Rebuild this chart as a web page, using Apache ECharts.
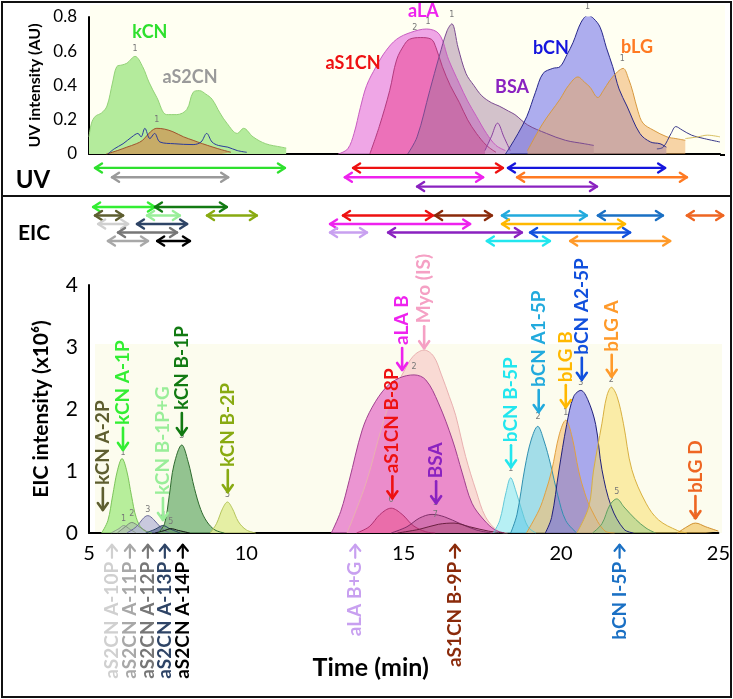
<!DOCTYPE html>
<html><head><meta charset="utf-8">
<script src="https://cdn.jsdelivr.net/npm/echarts@6/dist/echarts.min.js"></script>
<style>html,body{margin:0;padding:0;background:#fff;}#c{width:733px;height:699px;}</style>
</head><body><div id="c"></div>
<script>
// ---------------- UV chromatogram traces [time (min), intensity (AU)] ----------------
const uvKCN = [[5.0,0.1],[5.08,0.18],[5.2,0.22],[5.4,0.24],[5.57,0.28],[5.75,0.42],[5.88,0.51],[6.05,0.52],[6.2,0.53],[6.46,0.57],[6.7,0.51],[6.9,0.42],[7.15,0.33],[7.46,0.23],[7.78,0.23],[8.1,0.26],[8.3,0.36],[8.5,0.37],[8.7,0.35],[8.9,0.32],[9.15,0.24],[9.37,0.18],[9.7,0.12],[9.9,0.15],[10.2,0.10],[10.6,0.06],[11.1,0.04],[11.25,0.035]];
const uvAS2CN = [[5.55,0],[5.9,0.02],[6.2,0.04],[6.5,0.06],[6.7,0.08],[6.95,0.13],[7.15,0.15],[7.4,0.145],[7.66,0.13],[8.0,0.1],[8.3,0.08],[8.6,0.06],[8.93,0.04],[9.2,0.025],[9.5,0.01]];
const uvBlueTrace = [[5.6,0],[5.8,0.03],[6.08,0.06],[6.36,0.1],[6.55,0.12],[6.65,0.1],[6.77,0.15],[6.93,0.09],[7.08,0.12],[7.25,0.07],[7.7,0.06],[8.3,0.055],[8.55,0.07],[8.73,0.12],[8.9,0.07],[9.1,0.05],[9.4,0.04],[9.7,0.02],[10.0,0.01]];
const uvALA = [[12.9,0],[13.2,0.03],[13.4,0.12],[13.6,0.27],[13.8,0.4],[14.1,0.51],[14.4,0.6],[14.75,0.67],[15.2,0.71],[15.7,0.73],[16.1,0.7],[16.4,0.55],[16.74,0.41],[17.0,0.31],[17.28,0.22],[17.6,0.12],[17.9,0.05],[18.2,0.02]];
const uvAS1CN = [[13.9,0],[14.2,0.16],[14.53,0.37],[14.75,0.55],[15.0,0.64],[15.16,0.67],[15.5,0.68],[15.85,0.67],[16.0,0.62],[16.2,0.51],[16.45,0.4],[16.74,0.3],[17.0,0.2],[17.28,0.12],[17.6,0.05],[17.9,0.01]];
const uvBSA = [[15.1,0],[15.4,0.1],[15.8,0.37],[16.1,0.57],[16.35,0.72],[16.5,0.76],[16.7,0.62],[16.95,0.47],[17.2,0.4],[17.45,0.34],[17.75,0.3],[18.0,0.28],[18.3,0.25],[18.5,0.23],[18.9,0.17],[19.5,0.12],[20.1,0.08],[20.7,0.06],[21.0,0.05]];
const uvBSAminor = [[17.55,0.02],[17.75,0.1],[17.95,0.18],[18.15,0.1],[18.35,0.02]];
const uvBCN = [[18.2,0],[18.34,0.04],[18.6,0.12],[18.88,0.22],[19.15,0.36],[19.39,0.47],[19.7,0.5],[19.93,0.51],[20.15,0.58],[20.34,0.65],[20.6,0.77],[20.82,0.81],[21.0,0.79],[21.2,0.74],[21.4,0.62],[21.6,0.51],[21.8,0.38],[22.05,0.28],[22.46,0.12],[22.8,0.07],[23.1,0.06],[23.3,0.04]];
const uvBLG = [[18.9,0.02],[19.39,0.18],[19.93,0.32],[20.2,0.4],[20.5,0.45],[20.7,0.42],[20.88,0.39],[21.13,0.33],[21.3,0.37],[21.51,0.43],[21.75,0.48],[21.93,0.5],[22.1,0.44],[22.24,0.36],[22.4,0.25],[22.56,0.18],[22.88,0.14],[23.32,0.1],[23.6,0.09],[23.9,0.08]];
const uvTailTrace = [[23.0,0.03],[23.2,0.04],[23.45,0.12],[23.6,0.16],[23.8,0.14],[24.1,0.11],[24.5,0.09],[25.0,0.07]];
const uvYellowTrace = [[23.9,0.09],[24.3,0.1],[24.6,0.11],[25.0,0.1]];

// UV protein names and label anchor [time, AU]
const uvNames = ['kCN','aS2CN','aS1CN','aLA','BSA','bCN','bLG'];
const uvNameAnchors = [[6.93,0.71],[8.2,0.45],[13.37,0.53],[15.6,0.835],[18.41,0.39],[19.64,0.62],[22.37,0.625]];
// UV peak numbers [time, AU] and text
const uvPeakNums = [[6.46,0.59],[7.15,0.175],[15.33,0.71],[15.75,0.745],[16.5,0.79],[20.8,0.835],[21.9,0.53]];
const uvPeakNumText = ['1','1','2','1','1','1','1'];

// UV elution ranges [start, end] (min)
const uvRangeNames = ['kCN','aS2CN','aS1CN','aLA','BSA','bCN','bLG'];
const uvRanges = [[5.19,11.21],[5.73,9.41],[13.37,18.12],[13.11,17.49],[15.4,21.1],[18.28,23.26],[18.57,23.95]];
const uvRangeRows = [0,1,0,1,2,0,1];

// ---------------- EIC traces [time (min), intensity (x10^6)] ----------------
const eicKcnA1P = [[5.4,0],[5.6,0.2],[5.75,0.6],[5.9,1.0],[6.05,1.2],[6.2,1.0],[6.35,0.6],[6.5,0.25],[6.7,0.06],[7.0,0]];
const eicAs2cnP1 = [[5.7,0],[5.95,0.07],[6.1,0.12],[6.3,0.06],[6.5,0]];
const eicAs2cnP2 = [[5.9,0],[6.15,0.1],[6.36,0.17],[6.6,0.1],[6.9,0]];
const eicAs2cnP3 = [[6.2,0],[6.5,0.1],[6.75,0.25],[6.87,0.28],[7.05,0.22],[7.3,0.08],[7.55,0]];
const eicAs2cnP4 = [[6.8,0],[7.1,0.06],[7.35,0.12],[7.6,0.06],[7.9,0]];
const eicAs2cnP5 = [[7.1,0],[7.4,0.04],[7.6,0.07],[7.85,0.04],[8.2,0]];
const eicKcnB1P = [[7.2,0],[7.4,0.15],[7.55,0.6],[7.7,1.1],[7.95,1.42],[8.15,1.15],[8.35,0.72],[8.55,0.38],[8.75,0.18],[9.0,0.05],[9.3,0]];
const eicKcnB2P = [[8.85,0],[9.05,0.15],[9.25,0.4],[9.4,0.5],[9.55,0.4],[9.75,0.18],[10.0,0.05],[10.3,0]];
const eicMyo = [[13.2,0],[13.8,0.8],[14.3,1.7],[14.7,2.3],[15.0,2.6],[15.3,2.85],[15.65,2.95],[15.95,2.85],[16.2,2.55],[16.45,2.2],[16.65,1.9],[16.97,1.23],[17.3,0.68],[17.6,0.26],[18.0,0.03],[18.3,0]];
const eicAlaB = [[12.7,0],[13.0,0.35],[13.27,0.85],[13.68,1.66],[14.0,2.03],[14.44,2.35],[14.86,2.5],[15.33,2.55],[15.7,2.47],[16.1,2.1],[16.55,1.5],[16.86,0.97],[17.17,0.48],[17.55,0.21],[17.9,0.05],[18.2,0]];
const eicAs1cnB8P = [[13.5,0],[13.9,0.1],[14.25,0.3],[14.6,0.4],[14.95,0.3],[15.3,0.12],[15.7,0.02],[16.0,0]];
const eicBSA = [[14.6,0],[15.1,0.1],[15.5,0.24],[15.9,0.3],[16.3,0.26],[16.8,0.15],[17.3,0.05],[17.8,0]];
const eicAs1cnB9P = [[14.8,0],[15.5,0.06],[16.1,0.14],[16.6,0.16],[17.1,0.1],[17.7,0.03],[18.2,0]];
const eicBcnB5P = [[17.85,0],[18.05,0.2],[18.25,0.65],[18.4,0.89],[18.55,0.7],[18.75,0.37],[18.95,0.1],[19.2,0]];
const eicBcnA15P = [[18.4,0],[18.6,0.3],[18.85,1.05],[19.05,1.5],[19.26,1.72],[19.45,1.5],[19.67,1.1],[19.9,0.6],[20.15,0.2],[20.5,0]];
const eicBlgB = [[18.9,0],[19.3,0.37],[19.5,0.65],[19.7,1.0],[19.95,1.6],[20.15,1.82],[20.35,1.55],[20.56,1.0],[20.75,0.65],[20.97,0.37],[21.4,0.03],[21.7,0]];
const eicBcnA25P = [[19.5,0],[19.7,0.25],[19.93,1.0],[20.18,1.75],[20.4,2.2],[20.63,2.3],[20.85,2.15],[21.1,1.75],[21.3,1.02],[21.6,0.42],[22.0,0.06],[22.3,0]];
const eicBlgA = [[20.5,0],[20.88,0.42],[21.03,1.0],[21.3,1.77],[21.45,2.2],[21.6,2.35],[21.78,2.2],[21.98,1.77],[22.25,1.02],[22.7,0.48],[23.1,0.21],[23.7,0.04],[24.0,0]];
const eicBcnI5P = [[21.0,0],[21.3,0.15],[21.55,0.45],[21.77,0.55],[22.0,0.42],[22.37,0.22],[22.7,0.08],[23.0,0]];
const eicBlgD = [[23.7,0],[24.0,0.1],[24.27,0.16],[24.6,0.1],[25.0,0.03]];
// EIC peak numbers [time, intensity] and text
const eicPeakNums = [[6.08,1.23],[6.1,0.16],[6.36,0.24],[6.87,0.31],[7.35,0.21],[7.6,0.11],[7.95,1.5],[9.4,0.55],[15.33,2.62],[14.6,0.47],[16.0,0.42],[16.0,0.22],[18.4,0.97],[19.27,1.8],[20.15,1.88],[20.63,2.36],[21.6,2.41],[21.77,0.6],[24.27,0.2]];
const eicPeakNumText = ['1','1','2','3','4','5','3','5','2','6','1','7','1','2','1','3','2','5','3'];

// EIC peptide annotations: names, [time, intensity] of arrow tip
const eicTopNames = ['kCN A-2P','kCN A-1P','kCN B-1P+G','kCN B-1P','kCN B-2P','aS1CN B-8P','aLA B','Myo (IS)','BSA','bCN B-5P','bCN A1-5P','bLG B','bCN A2-5P','bLG A','bLG D'];
const eicTopTips = [[5.44,0.37],[6.08,1.34],[7.35,0.21],[7.95,1.58],[9.41,0.66],[14.64,0.56],[14.95,2.63],[15.65,2.98],[16.03,0.48],[18.41,1.06],[19.29,1.95],[20.15,2.03],[20.66,2.47],[21.61,2.52],[24.27,0.24]];
const eicBottomNames = ['aS2CN A-10P','aS2CN A-11P','aS2CN A-12P','aS2CN A-13P','aS2CN A-14P','aLA B+G','aS1CN B-9P','bCN I-5P'];
const eicBottomTimes = [5.73,6.3,6.87,7.41,7.98,13.46,16.63,21.86];

// EIC elution ranges [start, end] (min)
const eicRangeNames = ['kCN A-1P','kCN B-1P','kCN A-2P','kCN B-1P+G','kCN B-2P','aS2CN A-10P','aS2CN A-13P','aS2CN A-12P','aS2CN A-11P','aS2CN A-14P','aS1CN B-8P','aS1CN B-9P','aLA B','aLA B+G','BSA','bCN A1-5P','bCN I-5P','bLG D','bLG B','bCN A2-5P','bCN B-5P','bLG A'];
const eicRanges = [[5.13,7.09],[7.09,9.37],[5.19,6.08],[6.84,7.88],[8.74,10.32],[5.29,6.24],[6.52,8.11],[5.92,7.79],[5.6,6.87],[7.16,8.2],[13.05,15.9],[15.97,17.77],[12.64,17.08],[12.64,13.81],[14.48,18.72],[18.09,20.78],[21.13,23.19],[23.95,25.1],[18.09,21.99],[18.98,22.15],[17.61,19.61],[20.25,23.42]];
const eicRangeRows = [0,0,1,1,1,2,2,3,4,4,1,1,2,3,3,1,1,1,2,3,4,4];

// ---------------- styles ----------------
const nameColor = {
  'kCN':'#2ee02e','aS2CN':'#9a9a9a','aS1CN':'#ee1111','aLA':'#ee22ee','BSA':'#8a22c0','bCN':'#1515dd','bLG':'#ff7a22',
  'kCN A-1P':'#33ee33','kCN B-1P':'#127a12','kCN A-2P':'#5e5e30','kCN B-1P+G':'#99ee99','kCN B-2P':'#88aa11',
  'aS2CN A-10P':'#d0d0d0','aS2CN A-11P':'#a8a8a8','aS2CN A-12P':'#777777','aS2CN A-13P':'#2e4466','aS2CN A-14P':'#000000',
  'aS1CN B-8P':'#ee1111','aS1CN B-9P':'#8a2a0a','aLA B':'#ee22ee','aLA B+G':'#c8a0f0','Myo (IS)':'#f5a0c4',
  'bCN A1-5P':'#22aadd','bCN I-5P':'#1a70c4','bLG D':'#ee6622','bLG B':'#ffb800','bCN A2-5P':'#1150dd','bCN B-5P':'#22e6ee','bLG A':'#ff9a2a'
};
const colorOf = n => nameColor[n] || '#000';
const FONT = 'Lato, "Open Sans", sans-serif';

function area(data, x, y, fill, stroke) {
  return { type:'line', xAxisIndex:x, yAxisIndex:y, data, smooth:0.35, showSymbol:false,
    lineStyle:{color:stroke, width:1}, itemStyle:{color:stroke}, areaStyle:{color:fill, opacity:1}, silent:true };
}
function trace(data, x, y, stroke, w) {
  return { type:'line', xAxisIndex:x, yAxisIndex:y, data, smooth:0.35, showSymbol:false,
    lineStyle:{color:stroke, width:w||1}, itemStyle:{color:stroke}, silent:true };
}
function arrowSeries(ranges, rows, names, xi, yi) {
  return { type:'custom', xAxisIndex:xi, yAxisIndex:yi, silent:true, clip:false,
    data: ranges.map((r,i)=>[r[0], r[1], rows[i]]),
    renderItem: function(params, api) {
      const s = api.coord([api.value(0), api.value(2)]);
      const e = api.coord([api.value(1), api.value(2)]);
      const c = colorOf(names[params.dataIndex]);
      const y = s[1], h = 7, w = 4.5;
      const st = {stroke:c, lineWidth:2.4, fill:null, lineCap:'round', lineJoin:'round'};
      return { type:'group', children:[
        {type:'line', shape:{x1:s[0], y1:y, x2:e[0], y2:y}, style:st},
        {type:'polyline', shape:{points:[[s[0]+h,y-w],[s[0],y],[s[0]+h,y+w]]}, style:st},
        {type:'polyline', shape:{points:[[e[0]-h,y-w],[e[0],y],[e[0]-h,y+w]]}, style:st}
      ]};
    }
  };
}
function numSeries(pts, texts, xi, yi) {
  return { type:'custom', xAxisIndex:xi, yAxisIndex:yi, silent:true, clip:false, z:9, data:pts,
    renderItem: function(params, api){
      const p = api.coord([api.value(0), api.value(1)]);
      return {type:'text', x:p[0], y:p[1], style:{text:texts[params.dataIndex], fill:'#777', fontSize:8, fontFamily:'DejaVu Sans', align:'center', verticalAlign:'bottom'}};
    }};
}

const series = [
  // UV panel
  area(uvKCN,0,0,'#b4eb9c','#93d277'),
  area(uvAS2CN,0,0,'rgba(215,120,60,0.55)','#a0522d'),
  trace(uvBlueTrace,0,0,'#2a3a9a',1),
  area(uvALA,0,0,'rgba(236,150,228,0.85)','#c75cc0'),
  area(uvAS1CN,0,0,'rgba(235,95,170,0.75)','#b23a7e'),
  area(uvBSA,0,0,'rgba(150,110,150,0.42)','#7a4a90'),
  area(uvBSAminor,0,0,'rgba(220,190,220,0.5)','#8a40a0'),
  area(uvBCN,0,0,'rgba(105,105,235,0.55)','#28288a'),
  area(uvBLG,0,0,'rgba(240,170,90,0.5)','#d89a40'),
  trace(uvTailTrace,0,0,'#3a3a8a',1),
  trace(uvYellowTrace,0,0,'#d8c060',1),
  // EIC panel
  area(eicKcnA1P,1,1,'rgba(170,235,140,0.85)','#7cc45a'),
  area(eicAs2cnP1,1,1,'rgba(190,200,190,0.6)','#8a9a8a'),
  area(eicAs2cnP2,1,1,'rgba(170,190,170,0.6)','#7a8a7a'),
  area(eicAs2cnP3,1,1,'rgba(180,180,215,0.7)','#6a6a9a'),
  area(eicAs2cnP4,1,1,'rgba(70,90,130,0.6)','#2e4466'),
  area(eicAs2cnP5,1,1,'rgba(40,40,40,0.5)','#111'),
  area(eicKcnB1P,1,1,'rgba(120,180,120,0.8)','#2e6a2e'),
  area(eicKcnB2P,1,1,'rgba(225,236,150,0.85)','#b4c45a'),
  area(eicMyo,1,1,'rgba(248,214,208,0.9)','#e8b0b0'),
  area(eicAlaB,1,1,'rgba(228,110,200,0.72)','#a0408e'),
  area(eicAs1cnB8P,1,1,'rgba(232,70,130,0.45)','#b03070'),
  area(eicBSA,1,1,'rgba(170,70,130,0.35)','#80306a'),
  area(eicAs1cnB9P,1,1,'rgba(140,50,80,0.25)','#6a2040'),
  area(eicBcnB5P,1,1,'rgba(160,236,246,0.75)','#62c8d8'),
  area(eicBcnA15P,1,1,'rgba(90,195,228,0.55)','#3090b0'),
  area(eicBlgB,1,1,'rgba(246,190,110,0.6)','#e0a040'),
  area(eicBcnA25P,1,1,'rgba(100,100,235,0.55)','#20207a'),
  area(eicBlgA,1,1,'rgba(248,222,110,0.55)','#d8b040'),
  area(eicBcnI5P,1,1,'rgba(140,200,130,0.45)','#60a060'),
  area(eicBlgD,1,1,'rgba(240,190,80,0.6)','#d09030'),
  numSeries(uvPeakNums, uvPeakNumText, 0, 0),
  numSeries(eicPeakNums, eicPeakNumText, 1, 1),
  // UV protein names
  { type:'custom', xAxisIndex:0, yAxisIndex:0, silent:true, clip:false, z:10,
    data: uvNameAnchors,
    renderItem: function(params, api){
      const p = api.coord([api.value(0), api.value(1)]);
      const n = uvNames[params.dataIndex];
      return {type:'text', x:p[0], y:p[1], style:{text:n, fill:colorOf(n), fontSize:18, fontWeight:'bold', fontFamily:FONT, align:'center', verticalAlign:'middle'}};
    }},
  // EIC annotations (above peaks): downward arrow + upward-reading text
  { type:'custom', xAxisIndex:1, yAxisIndex:1, silent:true, clip:false, z:10,
    data: eicTopTips,
    renderItem: function(params, api){
      const p = api.coord([api.value(0), api.value(1)]);
      const n = eicTopNames[params.dataIndex], c = colorOf(n);
      const x = p[0], y = p[1], L = 22;
      const st = {stroke:c, lineWidth:2.6, fill:null, lineCap:'round', lineJoin:'round'};
      return {type:'group', children:[
        {type:'line', shape:{x1:x, y1:y-L, x2:x, y2:y}, style:st},
        {type:'polyline', shape:{points:[[x-5,y-7],[x,y],[x+5,y-7]]}, style:st},
        {type:'text', x:x, y:y-L-3, rotation:Math.PI/2, style:{text:n, fill:c, fontSize:19, fontWeight:'bold', fontFamily:FONT, align:'left', verticalAlign:'middle'}}
      ]};
    }},
  // EIC annotations (below axis): upward arrow + text
  { type:'custom', xAxisIndex:1, yAxisIndex:1, silent:true, clip:false, z:10,
    data: eicBottomTimes.map(t=>[t,-0.19]),
    renderItem: function(params, api){
      const p = api.coord([api.value(0), api.value(1)]);
      const n = eicBottomNames[params.dataIndex], c = colorOf(n);
      const x = p[0], y = p[1], L = 13;
      const st = {stroke:c, lineWidth:2.2, fill:null, lineCap:'round', lineJoin:'round'};
      return {type:'group', children:[
        {type:'line', shape:{x1:x, y1:y, x2:x, y2:y+L}, style:st},
        {type:'polyline', shape:{points:[[x-5,y+6],[x,y],[x+5,y+6]]}, style:st},
        {type:'text', x:x, y:y+L+4, rotation:Math.PI/2, style:{text:n, fill:c, fontSize:19, fontWeight:'bold', fontFamily:FONT, align:'right', verticalAlign:'middle'}}
      ]};
    }},
  arrowSeries(uvRanges, uvRangeRows, uvRangeNames, 2, 2),
  arrowSeries(eicRanges, eicRangeRows, eicRangeNames, 3, 3)
];

const option = {
  animation:false,
  backgroundColor:'#fff',
  textStyle:{fontFamily:FONT},
  grid:[
    {left:89, right:13, top:17, bottom:545},
    {left:89, right:13, top:285, bottom:166},
    {left:89, right:13, top:163.25, bottom:507.75},
    {left:89, right:13, top:202.75, bottom:453.75}
  ],
  xAxis:[
    {gridIndex:0, type:'value', min:5, max:25, axisLine:{lineStyle:{color:'#000', width:2}}, axisTick:{show:false}, axisLabel:{show:false}, splitLine:{show:false}},
    {gridIndex:1, type:'value', min:5, max:25, interval:5, axisLine:{lineStyle:{color:'#000', width:2}}, axisTick:{show:false}, splitLine:{show:false},
      axisLabel:{color:'#000', fontSize:20, margin:11, fontFamily:FONT},
      name:'Time (min)', nameLocation:'middle', nameGap:122,
      nameTextStyle:{color:'#000', fontSize:25, fontWeight:'bold', fontFamily:FONT, padding:[0,66,0,0]}},
    {gridIndex:2, type:'value', min:5, max:25, show:false},
    {gridIndex:3, type:'value', min:5, max:25, show:false}
  ],
  yAxis:[
    {gridIndex:0, type:'value', min:0, max:0.8, interval:0.2, axisLine:{show:true, lineStyle:{color:'#000', width:2}}, axisTick:{show:false}, splitLine:{show:false},
      axisLabel:{color:'#000', fontSize:17, margin:12, fontFamily:FONT, formatter:v=> v===0?'0':v.toFixed(1)},
      name:'UV intensity (AU)', nameLocation:'middle', nameGap:46,
      nameTextStyle:{color:'#000', fontSize:16, fontWeight:'bold', fontFamily:FONT}},
    {gridIndex:1, type:'value', min:0, max:4, interval:1, axisLine:{show:true, lineStyle:{color:'#000', width:2}}, axisTick:{show:false}, splitLine:{show:false},
      axisLabel:{color:'#000', fontSize:21, margin:11, fontFamily:FONT},
      name:'EIC intensity (x10⁶)', nameLocation:'middle', nameGap:37,
      nameTextStyle:{color:'#000', fontSize:21, fontWeight:'bold', fontFamily:FONT}},
    {gridIndex:2, type:'value', min:-0.5, max:2.5, inverse:true, show:false},
    {gridIndex:3, type:'value', min:-0.5, max:4.5, inverse:true, show:false}
  ],
  graphic:[
    {type:'rect', z:-10, silent:true, shape:{x:90, y:5, width:635, height:149}, style:{fill:'#fffff2'}},
    {type:'rect', z:-10, silent:true, shape:{x:95, y:344, width:627, height:189}, style:{fill:'#fcfcee'}},
    {type:'line', z:-5, silent:true, shape:{x1:720, y1:155, x2:725, y2:155}, style:{stroke:'#000', lineWidth:2}},
    {type:'rect', z:100, silent:true, shape:{x:2, y:2, width:729, height:695}, style:{fill:null, stroke:'#111', lineWidth:2}},
    {type:'line', z:100, silent:true, shape:{x1:2, y1:196, x2:731, y2:196}, style:{stroke:'#111', lineWidth:2}},
    {type:'text', z:100, silent:true, x:33, y:180, style:{text:'UV', fill:'#000', fontSize:24, fontWeight:'bold', fontFamily:FONT, align:'center', verticalAlign:'middle'}},
    {type:'text', z:100, silent:true, x:34, y:233, style:{text:'EIC', fill:'#000', fontSize:21, fontWeight:'bold', fontFamily:FONT, align:'center', verticalAlign:'middle'}}
  ],
  series
};
const chart = echarts.init(document.getElementById('c'), null, {renderer:'canvas'});
chart.setOption(option);
</script></body></html>
